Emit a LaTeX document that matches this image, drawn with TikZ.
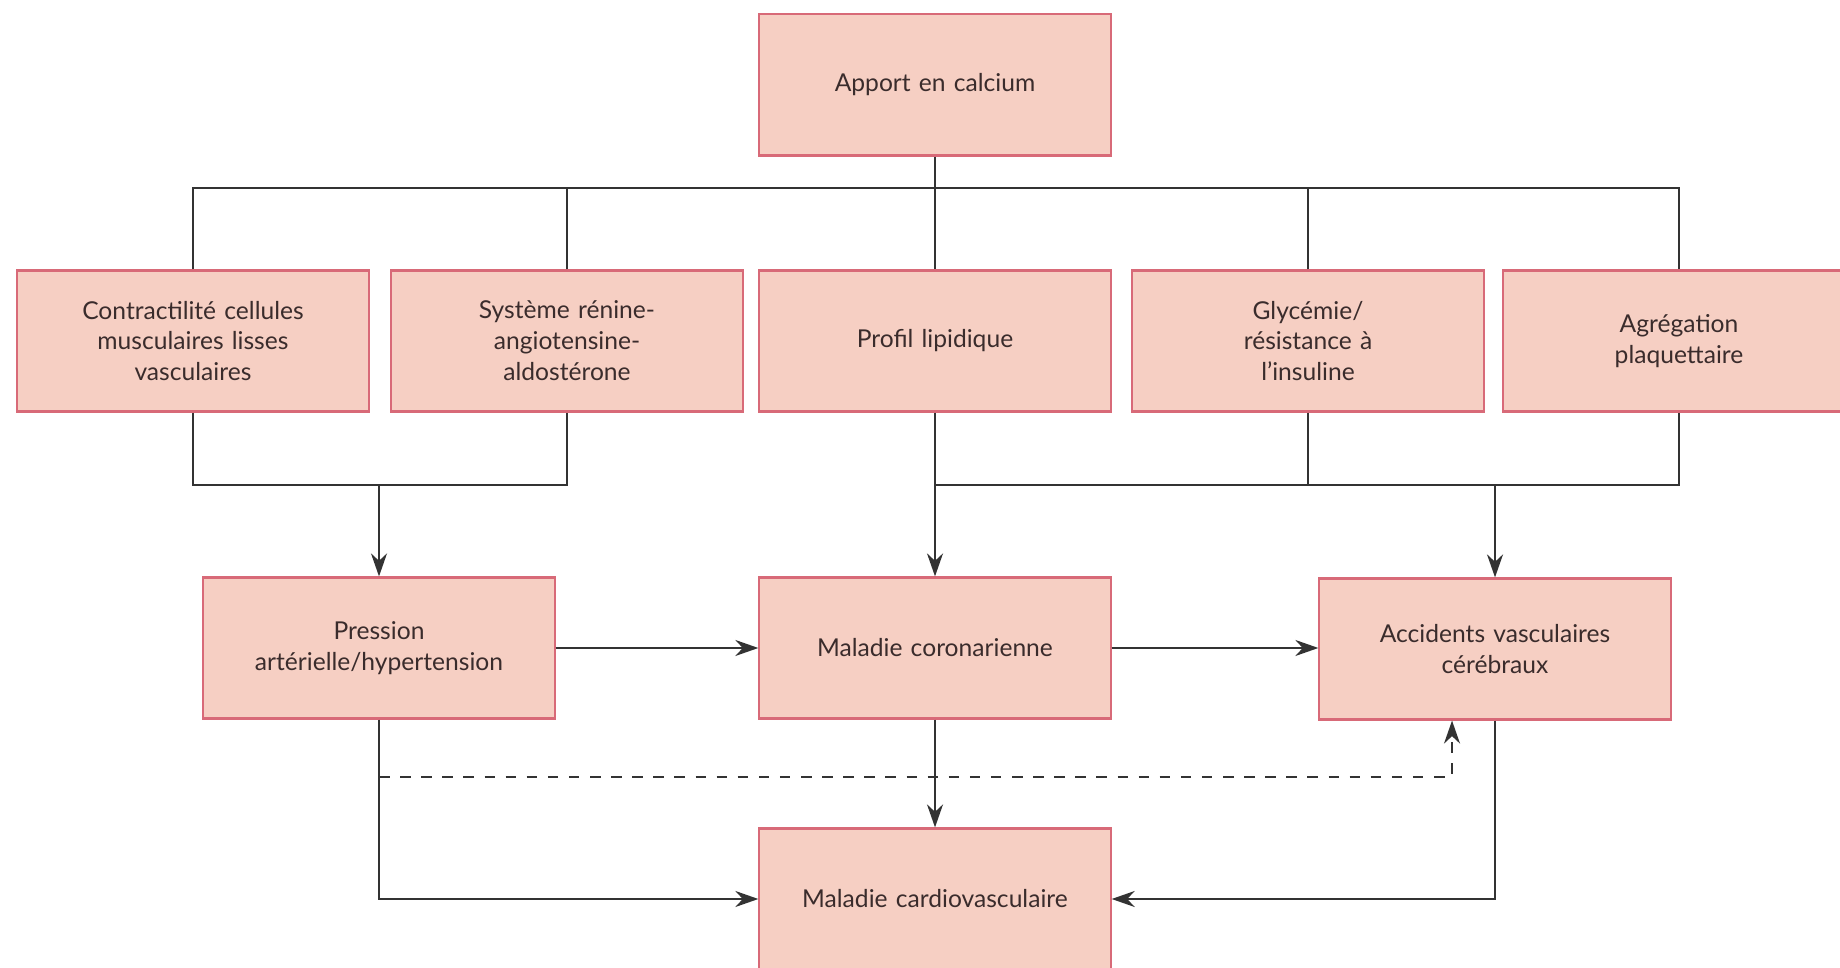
\documentclass[tikz,border=0pt]{standalone}
\usepackage{fontspec}
\setmainfont{Lato}
\usepackage{tikz}
\usepackage{xcolor}
\usetikzlibrary{
    arrows.meta,
    positioning,
    calc
}
\definecolor{boxfill}{HTML}{F6CFC3}
\definecolor{boxline}{HTML}{D86A78}
\definecolor{ink}{HTML}{3A2C2C}
\definecolor{wire}{HTML}{333333}
\tikzset{
    % Factor box style
    factor/.style={
        rectangle,
        minimum width=3.51cm,
        minimum height=1.41cm,
        text width=3.1cm,
        align=center,
        font=\fontsize{7.0}{8.8}\selectfont,
        text=ink,
        draw=boxline,
        fill=boxfill,
        line width=0.6pt
    },
    % Plain connector
    link/.style={
        line width=0.6pt,
        color=wire
    },
    % Arrow styles
    flow/.style={
        link,
        -{Stealth[length=2.3mm, width=1.6mm]}
    },
    maybeflow/.style={
        flow,
        dashed
    }
}

\begin{document}
\begin{tikzpicture}[x=0.01cm, y=-0.01cm]
        \useasboundingbox (0,0) rectangle (1840,968);
        
        % Source
        \node[factor] (calcium) at (935, 85) {Apport en calcium};
        
        % Intermediate factors
        \node[factor] (contract) at (193, 341) {Contractilité cellules\\musculaires lisses\\vasculaires};
        \node[factor] (renine) at (567, 341) {Système rénine-\\angiotensine-\\aldostérone};
        \node[factor] (lipid) at (935, 341) {Profil lipidique};
        \node[factor] (glyc) at (1308, 341) {Glycémie/\\résistance à\\l’insuline};
        \node[factor] (agreg) at (1679, 341) {Agrégation\\plaquettaire};
        
        % Outcomes
        \node[factor] (pression) at (379, 648) {Pression\\artérielle/hypertension};
        \node[factor] (corona) at (935, 648) {Maladie coronarienne};
        \node[factor] (avc) at (1495, 649) {Accidents vasculaires\\cérébraux};
        \node[factor] (cardio) at (935, 899) {Maladie cardiovasculaire};
        
        % Branching rows
        \coordinate (bar) at (0, 188);
        \coordinate (join) at (0, 485);
        \coordinate (dashturn) at (1452, 777);
        
        % Calcium to the five factors
        \draw[link] (calcium.south) -- (lipid.north);
        \draw[link] (contract.north) -- (contract.north |- bar) -- (agreg.north |- bar) -- (agreg.north);
        \draw[link] (renine.north) -- (renine.north |- bar);
        \draw[link] (glyc.north) -- (glyc.north |- bar);
        
        % Factors to outcomes
        \draw[link] (contract.south) -- (contract.south |- join) -- (renine.south |- join) -- (renine.south);
        \draw[flow] (pression.north |- join) -- (pression.north);
        \draw[link] (lipid.south |- join) -- (agreg.south |- join) -- (agreg.south);
        \draw[link] (glyc.south) -- (glyc.south |- join);
        \draw[flow] (lipid.south) -- (corona.north);
        \draw[flow] (avc.north |- join) -- (avc.north);
        
        % Between outcomes
        \draw[flow] (pression.east) -- (corona.west);
        \draw[flow] (corona.east) -- (corona.east -| avc.west);
        \draw[flow] (corona.south) -- (cardio.north);
        \draw[flow] (pression.south) |- (cardio.west);
        \draw[flow] (avc.south) |- (cardio.east);
        \draw[maybeflow] (pression.south |- dashturn) -| (avc.south -| dashturn);
        
    \end{tikzpicture}
\end{document}
